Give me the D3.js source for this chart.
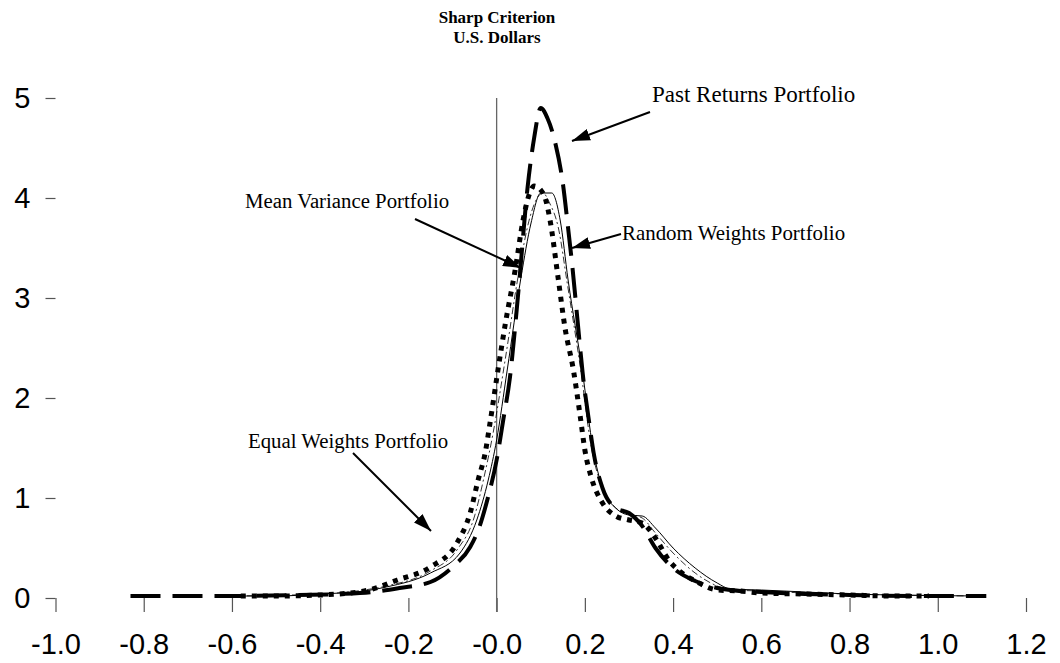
<!DOCTYPE html>
<html>
<head>
<meta charset="utf-8">
<script src="https://cdn.jsdelivr.net/npm/d3@7"></script>
<style>
  html, body { margin: 0; padding: 0; background: #fff; }
  svg { display: block; }
</style>
</head>
<body>
<svg id="chart" width="1060" height="663"></svg>
<script>
// ---------- data ----------
const titleLines = ["Sharp Criterion", "U.S. Dollars"];
const xTickValues = [-1.0, -0.8, -0.6, -0.4, -0.2, 0.0, 0.2, 0.4, 0.6, 0.8, 1.0, 1.2];
const yTickValues = [0, 1, 2, 3, 4, 5];

const pastReturnsX = [-0.83, -0.6, -0.45, -0.35, -0.28, -0.22, -0.15, -0.1, -0.06, -0.04, -0.02, 0.0, 0.015, 0.03, 0.05, 0.07, 0.085, 0.1, 0.115, 0.133, 0.15, 0.162, 0.172, 0.185, 0.195, 0.21, 0.22, 0.24, 0.27, 0.3, 0.33, 0.36, 0.4, 0.45, 0.5, 0.55, 0.6, 0.7, 0.8, 0.95, 1.11];
const pastReturnsY = [0.02, 0.02, 0.03, 0.04, 0.06, 0.1, 0.16, 0.31, 0.51, 0.7, 1.0, 1.38, 1.78, 2.2, 3.1, 4.1, 4.6, 4.9, 4.8, 4.55, 4.15, 3.7, 3.3, 2.7, 2.25, 1.75, 1.45, 1.1, 0.9, 0.85, 0.72, 0.5, 0.3, 0.17, 0.1, 0.07, 0.06, 0.04, 0.03, 0.02, 0.02];

const meanVarianceX = [-0.58, -0.5, -0.4, -0.3, -0.225, -0.15, -0.09, -0.06, -0.042, -0.026, -0.015, 0.003, 0.02, 0.042, 0.06, 0.075, 0.085, 0.1, 0.11, 0.121, 0.14, 0.155, 0.174, 0.19, 0.2, 0.215, 0.24, 0.27, 0.3, 0.33, 0.36, 0.39, 0.42, 0.45, 0.5, 0.55, 0.6, 0.7, 0.8, 0.9, 0.98];
const meanVarianceY = [0.02, 0.02, 0.03, 0.07, 0.18, 0.31, 0.55, 0.85, 1.18, 1.45, 1.75, 2.28, 2.75, 3.28, 3.78, 4.05, 4.12, 4.08, 4.0, 3.78, 3.18, 2.7, 2.28, 1.8, 1.48, 1.2, 0.95, 0.82, 0.78, 0.75, 0.6, 0.38, 0.25, 0.17, 0.08, 0.07, 0.05, 0.04, 0.03, 0.02, 0.02];

const randomWeightsX = [-0.6, -0.5, -0.4, -0.3, -0.25, -0.15, -0.083, -0.045, -0.019, 0.0, 0.024, 0.055, 0.078, 0.1, 0.125, 0.144, 0.162, 0.194, 0.219, 0.24, 0.27, 0.3, 0.33, 0.36, 0.4, 0.45, 0.5, 0.53, 0.6, 0.7, 0.8, 0.9, 1.1];
const randomWeightsY = [0.02, 0.02, 0.04, 0.07, 0.11, 0.25, 0.45, 0.78, 1.18, 1.58, 2.28, 3.2, 3.75, 4.05, 4.05, 3.78, 3.18, 2.28, 1.48, 1.1, 0.9, 0.83, 0.82, 0.7, 0.5, 0.3, 0.15, 0.09, 0.08, 0.06, 0.04, 0.03, 0.02];

const equalWeightsX = [-0.6, -0.4, -0.3, -0.25, -0.15, -0.09, -0.05, -0.03, -0.008, 0.02, 0.05, 0.075, 0.095, 0.105, 0.12, 0.14, 0.16, 0.19, 0.215, 0.24, 0.27, 0.3, 0.33, 0.36, 0.4, 0.45, 0.5, 0.53, 0.6, 0.7, 0.8, 0.9, 1.1];
const equalWeightsY = [0.02, 0.04, 0.08, 0.12, 0.27, 0.48, 0.82, 1.18, 1.65, 2.4, 3.25, 3.8, 4.02, 4.05, 3.95, 3.7, 3.15, 2.3, 1.5, 1.1, 0.9, 0.84, 0.8, 0.65, 0.45, 0.25, 0.12, 0.08, 0.07, 0.05, 0.04, 0.03, 0.02];

const seriesNames = ["Past Returns Portfolio", "Mean Variance Portfolio", "Random Weights Portfolio", "Equal Weights Portfolio"];

// ---------- layout / style ----------
const svg = d3.select("#chart");
const x = d3.scaleLinear().domain([-1.0, 1.2]).range([55.5, 1026]);
const y = d3.scaleLinear().domain([0, 5]).range([598, 98]);

const styles = [
  { xs: pastReturnsX, ys: pastReturnsY, width: 4, dash: "30,12", cap: "butt" },
  { xs: meanVarianceX, ys: meanVarianceY, width: 5, dash: "5,6", cap: "butt" },
  { xs: randomWeightsX, ys: randomWeightsY, width: 1, dash: null, cap: "butt" },
  { xs: equalWeightsX, ys: equalWeightsY, width: 0.8, dash: "7,3,2,3", cap: "butt" }
];

// title
svg.append("g").selectAll("text").data(titleLines).join("text")
  .attr("x", 497).attr("y", (d, i) => 23 + i * 20)
  .attr("text-anchor", "middle")
  .attr("font-family", "'Liberation Serif', 'Times New Roman', serif")
  .attr("font-weight", "bold").attr("font-size", 17)
  .text(d => d);

// axes
const xAxis = d3.axisBottom(x).tickValues(xTickValues).tickSize(14).tickPadding(21)
  .tickFormat(d => (Math.abs(d) < 1e-9 ? "-0.0" : d.toFixed(1)));
const gx = svg.append("g").attr("transform", `translate(0,${y(0)})`).call(xAxis);
gx.select(".domain").remove();
gx.selectAll(".tick line").attr("stroke", "#555").attr("stroke-width", 1.2);
gx.selectAll(".tick text").attr("font-family", "'Liberation Sans', Arial, sans-serif")
  .attr("font-size", 29).attr("fill", "#000");

const yAxis = d3.axisLeft(y).tickValues(yTickValues).tickSize(10).tickPadding(15)
  .tickFormat(d3.format("d"));
const gy = svg.append("g").attr("transform", `translate(${x(-1.0)},0)`).call(yAxis);
gy.select(".domain").remove();
gy.selectAll(".tick line").attr("stroke", "#555").attr("stroke-width", 1.2);
gy.selectAll(".tick text").attr("font-family", "'Liberation Sans', Arial, sans-serif")
  .attr("font-size", 29).attr("fill", "#000");

// zero reference line
svg.append("line")
  .attr("x1", x(0)).attr("x2", x(0))
  .attr("y1", y(5)).attr("y2", y(0) + 14)
  .attr("stroke", "#666").attr("stroke-width", 1.3);

// curves
const line = d3.line().x(d => x(d[0])).y(d => y(d[1])).curve(d3.curveMonotoneX);
styles.forEach(s => {
  const pts = s.xs.map((v, i) => [v, s.ys[i]]);
  svg.append("path").datum(pts)
    .attr("d", line)
    .attr("fill", "none").attr("stroke", "#000")
    .attr("stroke-width", s.width)
    .attr("stroke-linecap", s.cap)
    .attr("stroke-linejoin", "round")
    .attr("stroke-dasharray", s.dash);
});

// annotations with arrows
svg.append("defs").append("marker")
  .attr("id", "arrow").attr("viewBox", "0 0 18 12")
  .attr("refX", 18).attr("refY", 6)
  .attr("markerWidth", 18).attr("markerHeight", 12)
  .attr("markerUnits", "userSpaceOnUse").attr("orient", "auto")
  .append("path").attr("d", "M0,0 L18,6 L0,12 Z").attr("fill", "#000");

const annotations = [
  { text: seriesNames[0], size: 23, tx: 652, ty: 102, from: [650, 112], to: [572, 141] },
  { text: seriesNames[2], size: 20.9, tx: 622, ty: 240, from: [621, 234], to: [572, 248] },
  { text: seriesNames[1], size: 20.8, tx: 245, ty: 208, from: [415, 219], to: [521, 268] },
  { text: seriesNames[3], size: 20.8, tx: 248, ty: 448, from: [353, 453], to: [431, 531] }
];
const ga = svg.append("g");
annotations.forEach(a => {
  ga.append("text").attr("x", a.tx).attr("y", a.ty)
    .attr("font-family", "'Liberation Serif', 'Times New Roman', serif")
    .attr("font-size", a.size).attr("fill", "#000").text(a.text);
  ga.append("line")
    .attr("x1", a.from[0]).attr("y1", a.from[1])
    .attr("x2", a.to[0]).attr("y2", a.to[1])
    .attr("stroke", "#000").attr("stroke-width", 2)
    .attr("marker-end", "url(#arrow)");
});
</script>
</body>
</html>
